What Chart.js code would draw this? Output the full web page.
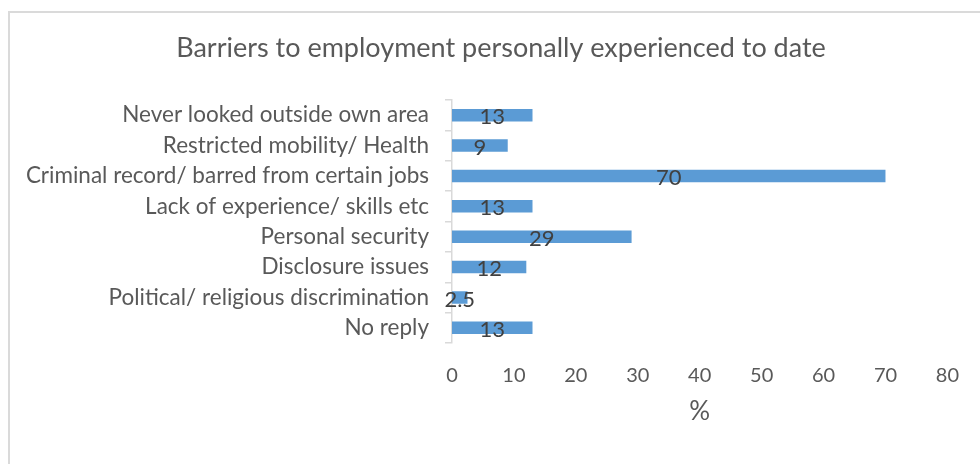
<!DOCTYPE html>
<html>
<head>
<meta charset="utf-8">
<script src="https://cdn.jsdelivr.net/npm/chart.js@4.4.1/dist/chart.umd.min.js"></script>
<style>
    html, body { margin: 0; padding: 0; background: #fff; overflow: hidden; }
    #wrap { position: relative; width: 980px; height: 464px; }
    #frame { position: absolute; left: 8px; top: 11px; width: 1000px; height: 500px; border: 2px solid #dadada; box-sizing: border-box; }
    #chart { position: absolute; left: 0; top: 0; }
</style>
</head>
<body>
<div id="wrap">
    <div id="frame"></div>
    <canvas id="chart" width="980" height="464"></canvas>
</div>
<script>
// Barreras, de arriba hacia abajo
const CATEGORIES = [
    'Never looked outside own area',
    'Restricted mobility/ Health',
    'Criminal record/ barred from certain jobs',
    'Lack of experience/ skills etc',
    'Personal security',
    'Disclosure issues',
    'Political/ religious discrimination',
    'No reply'
];
const VALUES = [13, 9, 70, 13, 29, 12, 2.5, 13];
const X_TICKS = [0, 10, 20, 30, 40, 50, 60, 70, 80];
const TITLE = 'Barriers to employment personally experienced to date';

const FONT = 'Lato, "Open Sans", sans-serif';
const GREY = '#595959';

// etiquetas de valor centradas en cada barra
const barLabels = {
    id: 'barLabels',
    afterDatasetsDraw(chart) {
        const ctx = chart.ctx;
        const meta = chart.getDatasetMeta(0);
        ctx.save();
        ctx.font = `22px ${FONT}`;
        ctx.fillStyle = '#404040';
        ctx.textAlign = 'center';
        ctx.textBaseline = 'middle';
        meta.data.forEach((bar, i) => {
            const cx = (bar.x + bar.base) / 2;
            ctx.fillText(String(VALUES[i]), cx, bar.y + 2);
        });
        ctx.restore();
    }
};

// título centrado sobre el marco (no sobre el canvas)
const frameTitle = {
    id: 'frameTitle',
    afterDraw(chart) {
        const ctx = chart.ctx;
        ctx.save();
        ctx.font = `27px ${FONT}`;
        ctx.fillStyle = GREY;
        ctx.textAlign = 'center';
        ctx.textBaseline = 'middle';
        ctx.fillText(TITLE, 501, 48);
        ctx.restore();
    }
};

let chart = new Chart(document.getElementById('chart'), {
    type: 'bar',
    data: {
        labels: CATEGORIES,
        datasets: [{
            data: VALUES,
            backgroundColor: '#5b9bd5',
            borderWidth: 0,
            barPercentage: 0.41,
            categoryPercentage: 1
        }]
    },
    options: {
        indexAxis: 'y',
        responsive: false,
        animation: false,
        layout: { padding: { left: 18, right: 28, top: 100, bottom: 37 } },
        plugins: {
            legend: { display: false },
            tooltip: { enabled: false },
            title: { display: false }
        },
        scales: {
            x: {
                min: 0,
                max: 80,
                afterBuildTicks: s => { s.ticks = X_TICKS.map(v => ({ value: v })); },
                afterFit: s => { s.height = 84; },
                grid: { display: false, drawTicks: false },
                border: { display: false },
                ticks: { color: GREY, padding: 21, font: { family: FONT, size: 20 } },
                title: {
                    display: true,
                    text: '%',
                    color: GREY,
                    font: { family: FONT, size: 26 },
                    padding: { top: 0, bottom: 0 }
                }
            },
            y: {
                afterFit: s => { s.width = 434; },
                grid: {
                    display: true,
                    drawOnChartArea: false,
                    drawTicks: true,
                    tickLength: 7,
                    color: '#d9d9d9',
                    lineWidth: 1.5
                },
                border: { display: true, color: '#d9d9d9', width: 1.5 },
                ticks: { color: GREY, padding: 16, font: { family: FONT, size: 22.5 } }
            }
        }
    },
    plugins: [barLabels, frameTitle]
});
</script>
</body>
</html>
